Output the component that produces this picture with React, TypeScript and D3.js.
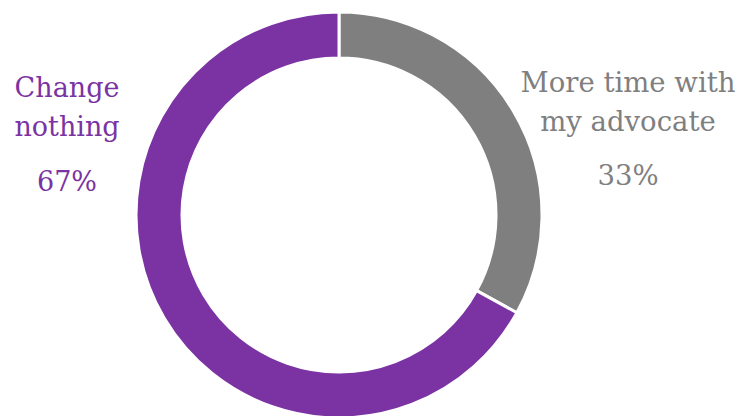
import React from "react";
import * as d3 from "d3";

const categories = ["More time with my advocate", "Change nothing"];
const values = [33, 67];
const colors = ["#7F7F7F", "#7B33A3"];
const labelLines = [["More time with", "my advocate"], ["Change", "nothing"]];
const pctLabels = ["33%", "67%"];

export default function App() {
  const W = 740, H = 416;
  const cx = 339, cy = 215, outerR = 203, innerR = 157;
  const pie = d3.pie<number>().sort(null).value((d) => d)(values);
  const arc = d3.arc<d3.PieArcDatum<number>>().innerRadius(innerR).outerRadius(outerR);
  const font = "'DejaVu Serif', Georgia, serif";
  const labelPos = [
    { x: 628, y: 92, pctY: 185, size: 27.5 },
    { x: 67, y: 97, pctY: 191, size: 27 },
  ];
  return (
    <svg width={W} height={H} style={{ position: "absolute", left: 0, top: 0 }}>
      <rect width={W} height={H} fill="#fff" />
      <g transform={`translate(${cx},${cy})`}>
        {pie.map((p, i) => (
          <path key={categories[i]} d={arc(p) || ""} fill={colors[i]} stroke="#fff" strokeWidth={3} />
        ))}
      </g>
      {labelPos.map((lp, i) => (
        <g key={i} fill={colors[i]} fontFamily={font} fontSize={lp.size} textAnchor="middle">
          {labelLines[i].map((t, j) => (
            <text key={j} x={lp.x} y={lp.y + j * 38.5}>{t}</text>
          ))}
          <text x={lp.x} y={lp.pctY}>{pctLabels[i]}</text>
        </g>
      ))}
    </svg>
  );
}
